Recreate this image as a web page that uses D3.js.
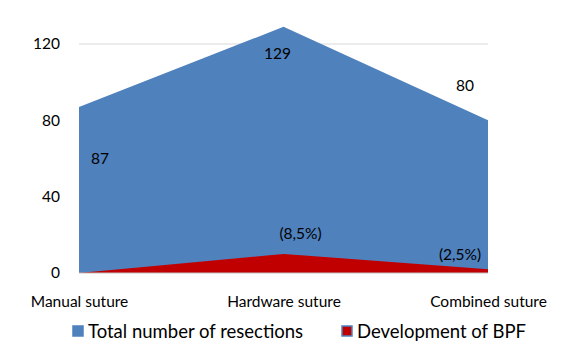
<!DOCTYPE html>
<html>
<head>
<meta charset="utf-8">
<script src="https://cdn.jsdelivr.net/npm/d3@7"></script>
<style>
body { margin: 0; background: #fff; }
text { font-family: Lato, "Open Sans", sans-serif; fill: #000; }
</style>
</head>
<body>
<script>
const w = 561
const h = 354

const categories = ["Manual suture", "Hardware suture", "Combined suture"]
const totalResections = [87, 129, 80]
const bpfCases = [0, 10, 2]
const totalLabels = ["87", "129", "80"]
const bpfLabels = ["", "(8,5%)", "(2,5%)"]
const yTicks = [0, 40, 80, 120]

let padding = { top: 44, left: 79, bottom: 81, right: 73 }

const svg = d3.select("body")
    .append("svg")
    .attr("width", w)
    .attr("height", h)

const x = d3.scalePoint()
    .domain(categories)
    .range([padding.left, w - padding.right])

const y = d3.scaleLinear()
    .domain([0, 120])
    .range([h - padding.bottom, padding.top])

// gridlines
svg.append("g")
    .selectAll("line")
    .data(yTicks.filter(d => d > 0))
    .enter()
    .append("line")
    .attr("x1", padding.left)
    .attr("x2", w - padding.right)
    .attr("y1", d => y(d))
    .attr("y2", d => y(d))
    .attr("stroke", "#d9d9d9")

const area = d3.area()
    .x((d, i) => x(categories[i]))
    .y0(y(0))
    .y1(d => y(d))

svg.append("path")
    .datum(totalResections)
    .attr("d", area)
    .attr("fill", "#4f81bd")

svg.append("path")
    .datum(bpfCases)
    .attr("d", area)
    .attr("fill", "#c00000")

// baseline
svg.append("line")
    .attr("x1", padding.left)
    .attr("x2", w - padding.right)
    .attr("y1", y(0))
    .attr("y2", y(0))
    .attr("stroke", "#bfbfbf")

// y axis
const yAxis = d3.axisLeft(y).tickValues(yTicks).tickSize(0).tickPadding(0)
const yg = svg.append("g")
    .attr("transform", `translate(${padding.left - 19},0)`)
    .call(yAxis)
yg.select(".domain").remove()
yg.selectAll("text").attr("font-size", "15.5px").attr("font-family", "Lato, sans-serif")

// x axis
const xAxis = d3.axisBottom(x).tickSize(0).tickPadding(0)
const xg = svg.append("g")
    .attr("transform", `translate(0,${y(0) + 23})`)
    .call(xAxis)
xg.select(".domain").remove()
xg.selectAll("text").attr("font-size", "15.5px").attr("font-family", "Lato, sans-serif")

// data labels
const totalOffsets = [[21, 57], [-6, 32], [-23, -29]]
svg.append("g")
    .selectAll("text")
    .data(totalResections)
    .enter()
    .append("text")
    .attr("x", (d, i) => x(categories[i]) + totalOffsets[i][0])
    .attr("y", (d, i) => y(d) + totalOffsets[i][1])
    .attr("text-anchor", "middle")
    .attr("font-size", "15.5px")
    .text((d, i) => totalLabels[i])

const bpfOffsets = [[0, 0], [17, -15], [-28, -9]]
svg.append("g")
    .selectAll("text")
    .data(bpfCases)
    .enter()
    .append("text")
    .attr("x", (d, i) => x(categories[i]) + bpfOffsets[i][0])
    .attr("y", (d, i) => y(d) + bpfOffsets[i][1])
    .attr("text-anchor", "middle")
    .attr("font-size", "15.5px")
    .text((d, i) => bpfLabels[i])

// legend
const legend = [
    { name: "Total number of resections", fill: "#4f81bd", stroke: "#4f81bd", x: 72 },
    { name: "Development of BPF", fill: "#c00000", stroke: "#4f81bd", x: 341 }
]
const lg = svg.append("g")
legend.forEach(item => {
    lg.append("rect")
        .attr("x", item.x + 1)
        .attr("y", 326)
        .attr("width", 10)
        .attr("height", 10)
        .attr("fill", item.fill)
        .attr("stroke", item.stroke)
        .attr("stroke-width", 1.5)
    lg.append("text")
        .attr("x", item.x + 16)
        .attr("y", 338)
        .attr("font-size", "18.5px")
        .text(item.name)
})
</script>
</body>
</html>
